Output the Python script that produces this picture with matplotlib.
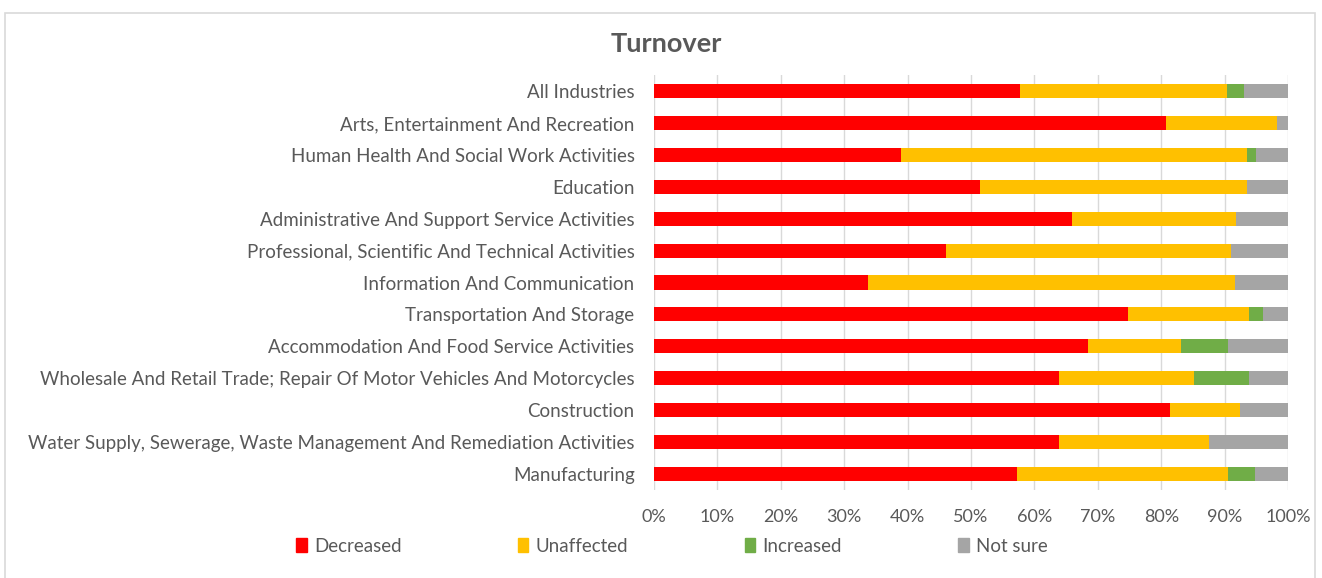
import matplotlib
matplotlib.use("Agg")
import matplotlib.pyplot as plt
import matplotlib.patches as mpatches
import numpy as np

# ── Veriler (%) ───────────────────────────────────────────────────────────────
industries = [
    "All Industries",
    "Arts, Entertainment And Recreation",
    "Human Health And Social Work Activities",
    "Education",
    "Administrative And Support Service Activities",
    "Professional, Scientific And Technical Activities",
    "Information And Communication",
    "Transportation And Storage",
    "Accommodation And Food Service Activities",
    "Wholesale And Retail Trade; Repair Of Motor Vehicles And Motorcycles",
    "Construction",
    "Water Supply, Sewerage, Waste Management And Remediation Activities",
    "Manufacturing",
]
decreased  = [57.8, 80.7, 39.0, 51.4, 66.0, 46.1, 33.8, 74.8, 68.4, 63.9, 81.4, 63.9, 57.3]
unaffected = [32.6, 17.5, 54.5, 42.1, 25.8, 44.9, 57.8, 19.0, 14.8, 21.3, 11.0, 23.7, 33.3]
increased  = [2.6,  0.0,  1.4,  0.0,  0.0,  0.0,  0.0,  2.3,  7.4,  8.6,  0.0,  0.0,  4.2]
not_sure   = [7.0,  1.8,  5.1,  6.5,  8.2,  9.0,  8.4,  3.9,  9.4,  6.2,  7.6,  12.4, 5.2]

series_names = ["Decreased", "Unaffected", "Increased", "Not sure"]
colors = ["#FF0000", "#FFC000", "#70AD47", "#A5A5A5"]
xticks = [0, 10, 20, 30, 40, 50, 60, 70, 80, 90, 100]

TEXT = "#595959"
plt.rcParams["font.family"] = ["Lato", "DejaVu Sans"]

fig = plt.figure(figsize=(13.22, 5.78), dpi=100)
ax = fig.add_axes([654 / 1322, 1 - 490 / 578, 634 / 1322, 415 / 578])

# çerçeve
fig.patches.append(mpatches.Rectangle((5 / 1322, -0.05), 1310 / 1322, 1.05 - 13 / 578,
                                      transform=fig.transFigure, fill=False,
                                      edgecolor="#D9D9D9", linewidth=1.2))

y = np.arange(len(industries))
left = np.zeros(len(industries))
for name, vals, c in zip(series_names, [decreased, unaffected, increased, not_sure], colors):
    vals = np.array(vals)
    ax.barh(y, vals, left=left, height=0.44, color=c, label=name, zorder=3)
    left += vals

ax.set_ylim(len(industries) - 0.5, -0.5)
ax.set_xlim(0, 100)
ax.set_yticks(y)
ax.set_yticklabels(industries, fontsize=13.5, color=TEXT)
ax.set_xticks(xticks)
ax.set_xticklabels([f"{t}%" for t in xticks], fontsize=13, color=TEXT)
ax.tick_params(axis="y", length=0, pad=14)
ax.tick_params(axis="x", length=0, pad=14)
ax.grid(axis="x", color="#D9D9D9", linewidth=1, zorder=0)
for s in ax.spines.values():
    s.set_visible(False)

fig.text(666 / 1322, 1 - 44 / 578, "Turnover", ha="center", va="center",
         fontsize=19.5, fontweight="bold", color=TEXT)

handles = [mpatches.Patch(color=c) for c in colors]
fig.legend(handles, series_names, loc="center", bbox_to_anchor=(672 / 1322, 1 - 546 / 578),
           ncol=4, frameon=False, fontsize=13.5, labelcolor=TEXT,
           handlelength=0.55, handleheight=0.7, handletextpad=0.4, columnspacing=6.2)

fig.savefig("out.png", dpi=100)
